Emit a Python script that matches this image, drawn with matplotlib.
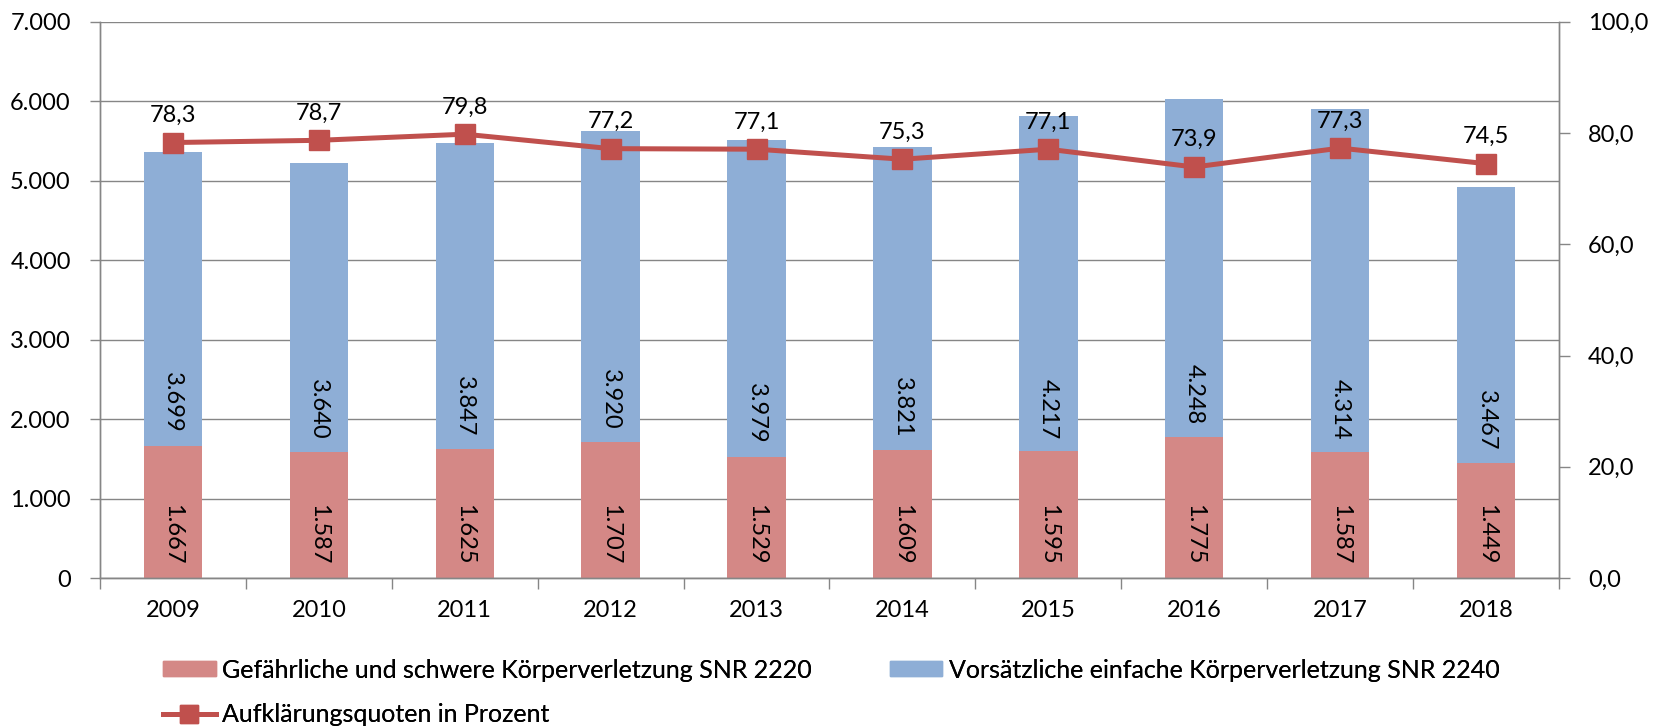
import matplotlib
matplotlib.use("Agg")
import matplotlib.pyplot as plt
from matplotlib.ticker import FuncFormatter, MultipleLocator, FixedLocator
from matplotlib.patches import Patch
from matplotlib.lines import Line2D
from matplotlib import font_manager as fm

# Data
years = ["2009", "2010", "2011", "2012", "2013", "2014", "2015", "2016", "2017", "2018"]
gefaehrlich = [1667, 1587, 1625, 1707, 1529, 1609, 1595, 1775, 1587, 1449]
vorsaetzlich = [3699, 3640, 3847, 3920, 3979, 3821, 4217, 4248, 4314, 3467]
quote = [78.3, 78.7, 79.8, 77.2, 77.1, 75.3, 77.1, 73.9, 77.3, 74.5]

label_red = "Gefährliche und schwere Körperverletzung SNR 2220"
label_blue = "Vorsätzliche einfache Körperverletzung SNR 2240"
label_line = "Aufklärungsquoten in Prozent"

c_red = "#D48886"
c_blue = "#8EAED6"
c_line = "#C0504D"
c_grid = "#868686"
fs = 17


def pick_font(names):
    avail = {f.name for f in fm.fontManager.ttflist}
    for n in names:
        if n in avail:
            return n
    return "DejaVu Sans"


base_font = pick_font(["Lato", "Open Sans", "DejaVu Sans"])
plt.rcParams["font.family"] = [base_font, "DejaVu Sans"]


def de_int(v, pos=None):
    return f"{int(round(v)):,}".replace(",", ".")


def de_dec(v, pos=None):
    return f"{v:.1f}".replace(".", ",")


W, H = 1655, 728
fig = plt.figure(figsize=(W / 100, H / 100), dpi=100)
ax = fig.add_axes([0.0604, 0.206, 0.8816, 0.764])
ax2 = ax.twinx()

x = list(range(len(years)))
w = 0.40
ax.bar(x, gefaehrlich, width=w, color=c_red, zorder=2)
ax.bar(x, vorsaetzlich, width=w, bottom=gefaehrlich, color=c_blue, zorder=2)

# bar labels at inside base, rotated
for i in x:
    ax.annotate(de_int(gefaehrlich[i]), (i, 0), xytext=(0, 10), textcoords="offset points",
                rotation=270, ha="center", va="bottom", fontsize=fs)
    ax.annotate(de_int(vorsaetzlich[i]), (i, gefaehrlich[i]), xytext=(0, 9), textcoords="offset points",
                rotation=270, ha="center", va="bottom", fontsize=fs)

ax2.plot(x, quote, color=c_line, lw=3.6, marker="s", ms=14, zorder=3)
for i in x:
    ax2.annotate(de_dec(quote[i]), (i, quote[i]), xytext=(0, 12), textcoords="offset points",
                 ha="center", va="bottom", fontsize=fs)

ax.set_xlim(-0.5, len(years) - 0.5)
ax.set_ylim(0, 7000)
ax2.set_ylim(0, 100)
ax.yaxis.set_major_locator(MultipleLocator(1000))
ax2.yaxis.set_major_locator(MultipleLocator(20))
ax.yaxis.set_major_formatter(FuncFormatter(de_int))
ax2.yaxis.set_major_formatter(FuncFormatter(de_dec))

ax.set_xticks(x)
ax.set_xticklabels(years)
ax.xaxis.set_minor_locator(FixedLocator([i - 0.5 for i in range(len(years) + 1)]))
ax.tick_params(axis="x", which="major", length=0, pad=16, labelsize=fs)
ax.tick_params(axis="x", which="minor", length=8, width=1, color=c_grid)
ax.tick_params(axis="y", length=7, width=1, color=c_grid, pad=14, labelsize=fs)
ax2.tick_params(axis="y", length=8, width=1, color=c_grid, pad=13, labelsize=fs)

ax.grid(axis="y", color=c_grid, lw=1, zorder=0)
ax.set_axisbelow(True)
for a in (ax, ax2):
    a.spines["top"].set_visible(False)
    for s in ("left", "right", "bottom"):
        a.spines[s].set_color(c_grid)
        a.spines[s].set_linewidth(1)

# legend: three single-entry legends placed like the original
leg_kw = dict(loc="center left", frameon=False, fontsize=18, handlelength=2.1, handleheight=0.55,
              handletextpad=0.25, borderaxespad=0, borderpad=0)
entries = [
    (Patch(color=c_red, label=label_red), 163, 670),
    (Patch(color=c_blue, label=label_blue), 890, 670),
    (Line2D([], [], color=c_line, lw=3.6, marker="s", ms=13, label=label_line), 163, 715),
]
for h, px, py in entries:
    leg = fig.legend(handles=[h], bbox_to_anchor=(px / W, 1 - py / H), **leg_kw)
    fig.add_artist(leg)

fig.savefig("out.png", dpi=100)
